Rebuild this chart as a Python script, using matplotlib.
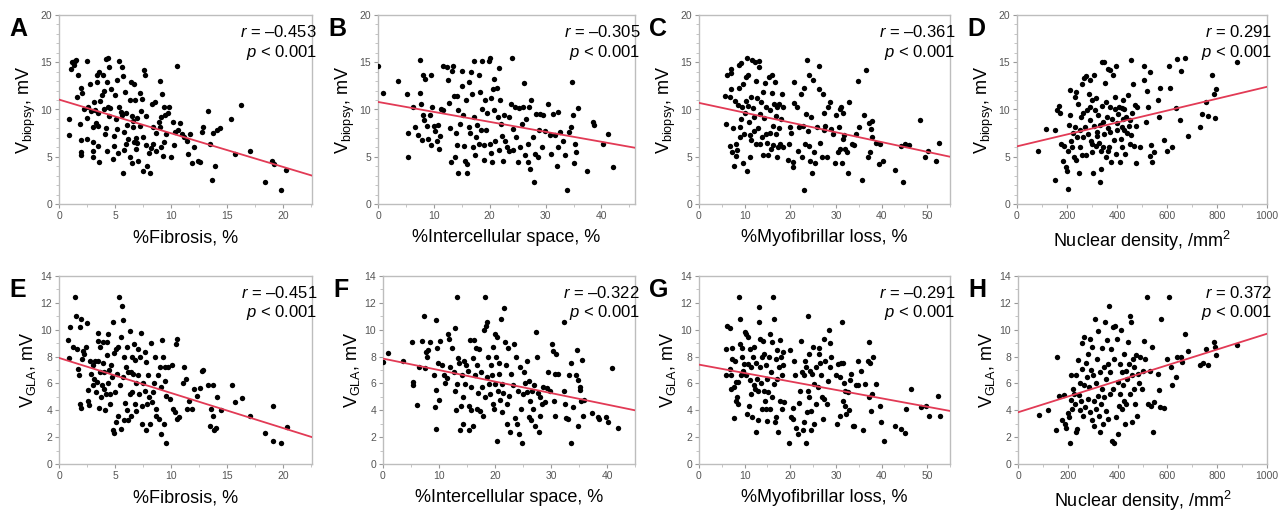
import matplotlib
matplotlib.use("Agg")
import matplotlib.pyplot as plt
import numpy as np

plt.rcParams['font.family'] = ['Liberation Sans', 'DejaVu Sans']
plt.rcParams['mathtext.fontset'] = 'custom'
plt.rcParams['mathtext.rm'] = 'Liberation Sans'
plt.rcParams['mathtext.it'] = 'Liberation Sans:italic'

# ---- data ----
pts_a = [(0.9, 9.0), (0.85, 7.3), (1.05, 14.3), (1.2, 15.0), (1.4, 15.1), (1.55, 15.2), (1.3, 14.7),
         (1.6, 11.3), (1.7, 13.7), (1.95, 12.3), (2.05, 11.7), (1.9, 8.5), (1.95, 6.8), (1.95, 5.5),
         (2.0, 5.2), (2.5, 15.1), (2.5, 9.1), (2.5, 6.9), (2.55, 10.3), (2.8, 12.7), (2.9, 9.8),
         (3.0, 6.6), (3.0, 5.6), (3.05, 5.0), (3.05, 8.1), (3.15, 10.8), (3.35, 12.9), (3.4, 13.7),
         (3.5, 9.6), (3.6, 14.0), (3.5, 6.1), (3.5, 8.3), (3.6, 4.4), (3.7, 10.9), (3.8, 11.5),
         (3.9, 13.6), (4.0, 12.0), (4.2, 15.3), (4.1, 7.4), (4.2, 8.0), (4.3, 12.9), (4.4, 15.5),
         (4.5, 14.5), (4.4, 10.3), (4.5, 9.3), (4.65, 12.2), (4.85, 4.8), (4.9, 7.2), (4.9, 6.1),
         (5.0, 11.5), (5.1, 9.0), (5.2, 13.1), (5.3, 5.4), (5.4, 10.3), (5.4, 15.1), (5.6, 14.5),
         (5.7, 13.5), (5.7, 3.3), (5.8, 7.6), (5.8, 5.7), (5.9, 11.9), (6.0, 9.6), (6.2, 6.9),
         (6.3, 11.0), (6.3, 5.0), (6.4, 12.9), (6.5, 4.3), (6.6, 8.8), (6.6, 8.1), (6.7, 12.7),
         (6.8, 11.0), (6.9, 7.0), (6.9, 5.8), (7.0, 9.1), (7.1, 4.5), (7.2, 8.3), (7.2, 11.7),
         (7.4, 11.1), (7.5, 7.1), (7.5, 3.5), (7.6, 14.2), (7.7, 13.7), (7.8, 9.3), (7.8, 6.2),
         (7.9, 4.0), (8.0, 5.4), (8.1, 3.3), (8.3, 10.6), (8.4, 8.1), (8.4, 6.4), (8.6, 10.8),
         (8.7, 7.5), (8.7, 5.6), (9.0, 8.1), (9.0, 13.0), (9.1, 9.2), (9.1, 6.0), (9.2, 11.6),
         (9.3, 5.1), (9.4, 10.3), (9.5, 9.4), (9.6, 7.4), (9.8, 10.3), (10.0, 5.0), (10.2, 8.7),
         (10.3, 6.2), (10.5, 14.6), (10.6, 7.8), (10.8, 8.6), (11.0, 7.4), (11.2, 7.1), (11.4, 6.7),
         (11.55, 5.3), (11.7, 7.4), (11.85, 4.3), (12.1, 6.0), (12.4, 4.6), (12.6, 4.4), (12.75, 7.6),
         (12.85, 8.2), (13.35, 9.8), (13.5, 6.3), (13.7, 2.5), (13.8, 7.5), (13.9, 4.0), (14.15, 7.8),
         (14.4, 8.0), (15.4, 9.0), (15.75, 5.3), (16.3, 10.5), (17.1, 5.6), (18.4, 2.3), (19.0, 4.5),
         (19.2, 4.2), (19.8, 1.5), (20.3, 3.6),
         (2.2, 10.0), (3.2, 9.9), (4.0, 10.1), (4.6, 10.2), (5.5, 9.7), (6.1, 8.4), (6.5, 9.3),
         (7.3, 9.8), (5.2, 7.9), (6.0, 6.4), (4.3, 5.6), (6.7, 6.6), (8.2, 5.9), (9.4, 6.6),
         (3.3, 8.6), (5.6, 9.4), (7.0, 6.5), (8.9, 8.7), (9.7, 9.6), (10.4, 7.6)]

pts_b = [(0.0, 14.6), (0.9, 11.7), (3.65, 13.0), (5.2, 11.6), (5.4, 7.5), (5.4, 5.0), (6.3, 10.3),
         (6.6, 8.1), (7.2, 7.3), (7.5, 15.2), (7.6, 11.7), (7.7, 10.6), (7.8, 6.8), (8.0, 9.4),
         (8.1, 13.7), (8.2, 8.85), (8.4, 13.2), (8.7, 8.3), (9.0, 6.9), (9.3, 9.4), (9.4, 6.2),
         (9.5, 13.7), (9.6, 10.3), (10.0, 8.3), (10.2, 7.7), (10.6, 6.7), (10.8, 8.4), (10.9, 5.8),
         (11.1, 7.2), (11.3, 10.1), (11.55, 14.6), (11.7, 9.9), (12.3, 14.5), (12.6, 13.1),
         (12.75, 10.7), (12.9, 8.0), (13.0, 4.4), (13.2, 14.1), (13.35, 14.65), (13.6, 11.4),
         (13.8, 5.0), (13.9, 7.5), (14.1, 6.2), (14.1, 11.4), (14.25, 3.3), (14.4, 9.9), (14.7, 8.5),
         (15.0, 14.1), (15.1, 12.5), (15.3, 9.4), (15.4, 6.1), (15.55, 4.5), (15.75, 11.0),
         (15.9, 4.2), (16.0, 3.3), (16.2, 8.1), (16.3, 12.9), (16.5, 7.5), (16.6, 14.0), (16.8, 11.6),
         (16.95, 6.0), (17.1, 15.1), (17.2, 9.2), (17.4, 5.2), (17.5, 7.1), (17.8, 8.4), (18.0, 6.4),
         (18.1, 13.7), (18.3, 11.9), (18.4, 7.8), (18.6, 10.1), (18.7, 15.1), (18.9, 6.2), (19.0, 4.7),
         (19.2, 11.0), (19.3, 7.8), (19.5, 9.6), (19.8, 15.1), (20.0, 6.4), (20.1, 15.5), (20.2, 11.2),
         (20.3, 5.4), (20.4, 4.4), (20.5, 12.2), (20.7, 13.2), (20.8, 9.9), (21.0, 6.7), (21.3, 12.3),
         (21.4, 9.2), (21.6, 14.4), (21.7, 5.7), (21.9, 11.0), (22.1, 8.5), (22.2, 7.2), (22.45, 4.6),
         (22.6, 9.4), (22.8, 6.7), (23.1, 6.0), (23.4, 9.2), (23.5, 5.6), (23.8, 10.6), (23.95, 15.4),
         (24.1, 7.9), (24.25, 5.7), (24.55, 10.3), (24.7, 7.1), (25.0, 4.4), (25.2, 10.2), (25.45, 6.0),
         (25.7, 8.5), (25.9, 10.3), (26.2, 12.8), (26.3, 5.2), (26.5, 9.0), (26.8, 6.4), (26.9, 4.4),
         (27.1, 10.3), (27.2, 3.7), (27.4, 11.0), (27.7, 7.1), (28.0, 2.3), (28.1, 5.3), (28.3, 9.5),
         (28.6, 5.0), (28.8, 7.8), (29.0, 9.5), (29.3, 6.0), (29.5, 9.4), (29.9, 7.7), (30.5, 10.6),
         (30.7, 7.3), (31.0, 5.3), (31.3, 9.5), (31.6, 7.3), (32.0, 4.0), (32.2, 9.7), (32.3, 6.0),
         (32.6, 7.6), (33.1, 6.7), (33.5, 5.2), (33.8, 1.5), (34.1, 7.6), (34.55, 8.2), (34.8, 12.9),
         (34.9, 9.4), (35.1, 4.3), (35.2, 6.4), (35.5, 5.5), (35.75, 10.2), (37.4, 3.5), (38.5, 8.7),
         (38.6, 8.4), (40.3, 6.4), (41.1, 7.4), (42.1, 3.9)]

pts_c = [(5.8, 11.4), (5.95, 8.5), (6.1, 13.7), (6.7, 11.3), (6.85, 6.1), (7.0, 14.3), (7.1, 12.2),
         (7.1, 13.9), (7.3, 5.5), (7.4, 8.0), (7.65, 4.0), (7.8, 10.9), (8.0, 6.4), (8.2, 5.1),
         (8.3, 5.7), (8.5, 10.5), (8.75, 12.3), (8.75, 14.7), (8.9, 7.1), (9.0, 8.2), (9.2, 9.0),
         (9.3, 14.9), (9.5, 10.3), (9.6, 4.3), (9.75, 12.7), (9.9, 7.4), (10.05, 9.6), (10.2, 10.9),
         (10.35, 13.4), (10.5, 15.5), (10.6, 3.5), (10.7, 10.4), (10.8, 13.6), (10.9, 8.7),
         (11.1, 7.3), (11.15, 5.0), (11.3, 11.3), (11.45, 6.8), (11.6, 15.2), (11.8, 10.2),
         (11.95, 9.2), (12.1, 7.7), (12.25, 15.0), (12.4, 6.3), (12.5, 13.0), (12.7, 11.25),
         (12.9, 8.0), (13.05, 15.15), (13.1, 14.5), (13.3, 6.4), (13.4, 9.5), (13.6, 10.8),
         (13.85, 7.1), (14.0, 11.9), (14.1, 5.2), (14.3, 9.1), (14.4, 12.8), (14.6, 7.4), (14.7, 10.3),
         (14.9, 6.5), (15.1, 5.2), (15.3, 13.4), (15.45, 9.9), (15.6, 7.5), (15.7, 5.8), (15.9, 11.75),
         (16.0, 13.7), (16.2, 8.3), (16.3, 6.2), (16.5, 10.6), (16.6, 12.9), (16.8, 7.4), (16.9, 9.3),
         (17.05, 5.0), (17.2, 10.3), (17.35, 6.0), (17.5, 8.0), (17.6, 10.6), (17.8, 6.4), (17.9, 9.0),
         (18.2, 11.6), (18.4, 10.3), (18.5, 6.0), (19.5, 4.7), (19.7, 6.4), (20.0, 8.2), (20.2, 7.5),
         (20.55, 4.4), (20.7, 3.9), (20.8, 12.9), (20.9, 10.7), (21.4, 10.3), (21.6, 5.6), (22.0, 8.1),
         (22.3, 11.6), (22.5, 5.0), (22.7, 8.3), (22.95, 12.3), (23.1, 1.5), (23.25, 6.3), (23.5, 9.5),
         (23.7, 15.2), (23.8, 7.7), (24.05, 6.1), (24.2, 13.6), (24.4, 4.6), (24.6, 9.2), (24.7, 3.3),
         (24.9, 13.1), (25.1, 5.5), (25.5, 4.3), (25.9, 8.1), (26.2, 12.2), (26.4, 14.6), (26.6, 6.5),
         (26.9, 5.0), (27.1, 11.6), (27.3, 9.6), (27.5, 7.8), (27.7, 8.3), (28.1, 5.0), (28.35, 10.3),
         (28.6, 10.8), (28.9, 7.9), (29.3, 7.4), (29.7, 4.3), (30.0, 9.4), (30.4, 5.5), (30.6, 8.1),
         (30.8, 10.1), (31.0, 5.8), (31.2, 10.3), (31.3, 4.3), (31.5, 9.6), (31.6, 6.9), (31.85, 7.3),
         (32.1, 5.8), (32.4, 5.5), (32.6, 3.3), (32.95, 10.8), (33.5, 6.4), (34.0, 6.2), (34.4, 7.4),
         (34.8, 13.0), (35.1, 8.2), (35.7, 2.5), (36.2, 9.4), (36.7, 14.2), (37.0, 5.0), (37.2, 8.6),
         (37.5, 5.5), (37.6, 7.9), (37.8, 8.8), (37.9, 7.1), (38.8, 6.5), (39.4, 4.2), (39.65, 6.4),
         (40.4, 4.5), (43.0, 3.6), (44.2, 6.1), (44.75, 2.3), (45.1, 6.4), (46.1, 6.2), (48.5, 8.9),
         (49.6, 5.0), (50.2, 5.6), (52.0, 4.5), (52.5, 6.5)]

pts_d = [(85, 5.6), (117, 7.9), (150, 2.5), (153, 7.8), (160, 9.9), (168, 10.4), (173, 9.6), (177, 6.4),
         (184, 4.6), (187, 6.1), (195, 3.9), (200, 3.5), (204, 1.6), (205, 5.6), (208, 8.4), (211, 12.1),
         (213, 9.4), (217, 6.7), (221, 6.0), (224, 7.5), (228, 5.0), (231, 11.3), (235, 11.9),
         (237, 4.7), (240, 7.1), (244, 10.6), (247, 3.3), (251, 7.8), (253, 6.0), (256, 9.2), (259, 5.2),
         (261, 12.7), (264, 7.1), (267, 13.3), (271, 8.1), (275, 13.5), (277, 5.2), (280, 9.9),
         (284, 7.4), (288, 11.6), (291, 8.85), (293, 13.1), (296, 6.7), (299, 11.0), (301, 5.5),
         (304, 3.3), (307, 8.3), (309, 13.6), (312, 9.9), (315, 6.1), (317, 11.2), (320, 7.6),
         (324, 9.4), (327, 6.5), (331, 2.3), (333, 8.4), (336, 3.7), (339, 15.0), (341, 10.4),
         (344, 6.0), (347, 15.0), (349, 7.4), (352, 12.8), (355, 5.0), (357, 10.8), (360, 9.2),
         (363, 14.3), (365, 8.0), (368, 6.0), (371, 10.3), (373, 14.2), (377, 4.4), (380, 9.0),
         (384, 13.7), (387, 6.8), (391, 11.3), (395, 5.3), (397, 14.6), (400, 7.8), (404, 9.5),
         (408, 10.3), (411, 4.4), (415, 6.9), (419, 10.2), (421, 6.0), (424, 11.0), (427, 7.8),
         (429, 10.1), (432, 5.3), (437, 9.2), (441, 7.5), (444, 11.5), (448, 8.3), (451, 6.4),
         (455, 15.2), (457, 7.3), (461, 9.6), (464, 12.7), (468, 6.1), (471, 10.5), (475, 8.3),
         (477, 4.3), (480, 10.3), (491, 6.0), (507, 14.6), (509, 13.1), (515, 8.7), (520, 12.0),
         (525, 10.3), (531, 5.1), (533, 14.0), (537, 6.2), (541, 4.4), (547, 5.5), (564, 11.0),
         (568, 9.2), (571, 12.3), (587, 6.8), (600, 5.6), (608, 14.6), (613, 12.3), (619, 6.0),
         (635, 10.2), (640, 15.3), (651, 8.85), (657, 14.1), (672, 15.5), (684, 7.2), (731, 8.1),
         (741, 9.5), (755, 10.8), (764, 9.3), (781, 13.6), (787, 11.6), (791, 9.1), (795, 12.2),
         (880, 15.0),
         (230, 8.2), (262, 9.6), (290, 10.3), (318, 7.2), (345, 8.7), (372, 7.6), (398, 8.6),
         (425, 9.0), (452, 8.9), (300, 6.4), (335, 5.6), (362, 5.6), (392, 10.1), (420, 8.1)]

pts_e = [(0.8, 9.25), (0.9, 7.9), (1.0, 10.2), (1.25, 8.75), (1.45, 12.45), (1.55, 11.0), (1.6, 8.6),
         (1.7, 7.1), (1.75, 6.6), (1.85, 10.2), (1.9, 4.5), (1.95, 4.15), (1.95, 10.8), (2.05, 7.85),
         (2.15, 8.45), (2.2, 8.2), (2.45, 8.7), (2.5, 10.5), (2.55, 5.5), (2.6, 4.7), (2.7, 4.4),
         (2.8, 7.65), (2.9, 6.7), (3.0, 5.85), (3.05, 7.4), (3.1, 6.35), (3.2, 7.7), (3.3, 5.35),
         (3.35, 6.1), (3.45, 7.7), (3.5, 9.15), (3.5, 9.75), (3.6, 4.2), (3.65, 6.85), (3.7, 8.7),
         (3.75, 5.0), (3.8, 5.85), (3.9, 7.5), (3.95, 9.1), (4.0, 5.6), (4.05, 6.85), (4.1, 4.0),
         (4.2, 5.2), (4.25, 8.1), (4.3, 9.1), (4.35, 6.0), (4.4, 9.65), (4.5, 7.0), (4.55, 5.2),
         (4.6, 4.5), (4.65, 7.4), (4.7, 6.5), (4.8, 2.5), (4.85, 10.55), (4.9, 2.3), (4.95, 8.25),
         (5.0, 5.35), (5.05, 3.1), (5.1, 8.6), (5.2, 6.7), (5.25, 3.55), (5.3, 8.7), (5.4, 12.45),
         (5.45, 5.85), (5.5, 2.6), (5.55, 9.45), (5.6, 11.75), (5.7, 6.45), (5.75, 10.75), (5.8, 3.25),
         (5.85, 7.95), (5.9, 4.55), (6.0, 7.2), (6.05, 4.0), (6.1, 8.7), (6.15, 6.85), (6.2, 3.25),
         (6.3, 5.2), (6.35, 9.9), (6.4, 6.85), (6.45, 3.55), (6.5, 7.95), (6.55, 5.35), (6.6, 6.7),
         (6.7, 8.9), (6.75, 4.5), (6.8, 7.75), (6.85, 6.0), (6.9, 3.95), (7.05, 8.6), (7.1, 6.6),
         (7.15, 5.2), (7.25, 8.0), (7.35, 9.75), (7.4, 3.0), (7.45, 4.35), (7.5, 6.0), (7.65, 8.35),
         (7.7, 5.45), (7.75, 7.6), (7.8, 2.55), (7.9, 4.5), (7.95, 6.65), (8.05, 5.0), (8.1, 3.0),
         (8.2, 9.0), (8.3, 4.6), (8.4, 5.35), (8.5, 6.0), (8.6, 8.0), (8.65, 4.1), (8.7, 3.6),
         (8.85, 6.6), (8.95, 3.35), (9.0, 7.2), (9.1, 5.7), (9.15, 2.25), (9.2, 9.25), (9.3, 7.95),
         (9.4, 3.0), (9.45, 6.2), (9.5, 7.2), (9.55, 1.6), (9.6, 5.1), (9.75, 7.2), (9.9, 4.85),
         (10.05, 7.4), (10.2, 4.1), (10.35, 3.85), (10.45, 8.95), (10.5, 9.3), (10.55, 3.35),
         (10.75, 3.5), (11.05, 6.0), (11.15, 7.2), (11.3, 6.35), (11.45, 4.1), (11.65, 4.7),
         (11.85, 4.1), (12.05, 5.6), (12.3, 5.1), (12.6, 5.65), (12.75, 6.95), (12.9, 7.0),
         (13.35, 5.85), (13.5, 2.85), (13.6, 4.1), (13.75, 5.9), (13.8, 3.6), (13.85, 2.55),
         (14.05, 2.7), (14.15, 5.0), (14.45, 4.0), (15.45, 5.9), (15.75, 4.6), (16.35, 4.9),
         (17.1, 3.6), (18.4, 2.3), (19.1, 1.75), (19.15, 4.35), (19.85, 1.55), (20.35, 2.75)]

pts_f = [(0.0, 7.6), (0.9, 8.3), (3.6, 7.65), (5.1, 9.1), (5.4, 6.1), (5.4, 5.85), (6.1, 4.4),
         (6.4, 7.25), (7.0, 9.15), (7.4, 11.0), (7.5, 7.15), (7.65, 8.35), (7.9, 7.95), (8.05, 8.5),
         (8.35, 9.1), (9.15, 6.65), (9.3, 4.25), (9.45, 10.75), (9.55, 5.5), (9.5, 2.6), (9.65, 8.65),
         (9.85, 7.5), (10.0, 4.75), (10.15, 9.15), (10.6, 7.4), (10.85, 6.6), (11.05, 6.0),
         (11.35, 6.4), (11.65, 9.7), (11.8, 9.3), (12.05, 7.2), (12.4, 8.65), (12.65, 6.85),
         (12.8, 5.45), (12.85, 10.15), (13.0, 4.0), (13.15, 12.45), (13.25, 5.95), (13.35, 7.9),
         (13.6, 7.5), (13.75, 2.5), (13.85, 4.35), (14.05, 6.6), (14.2, 3.0), (14.35, 5.0),
         (14.5, 7.7), (14.7, 5.95), (14.9, 7.4), (15.1, 6.95), (15.3, 2.55), (15.4, 4.35),
         (15.5, 9.2), (15.65, 4.0), (15.8, 5.7), (16.0, 7.9), (16.1, 2.85), (16.3, 9.2), (16.4, 6.6),
         (16.6, 8.65), (16.7, 4.1), (16.85, 7.4), (17.0, 5.3), (17.2, 8.6), (17.3, 3.95),
         (17.5, 6.85), (17.65, 5.7), (17.9, 3.6), (18.05, 9.95), (18.15, 12.45), (18.25, 5.0),
         (18.4, 10.25), (18.5, 6.45), (18.6, 10.55), (18.8, 7.95), (19.0, 5.95), (19.1, 5.2),
         (19.2, 7.4), (19.4, 6.6), (19.6, 4.5), (19.7, 8.75), (19.8, 4.1), (19.95, 9.65),
         (20.05, 5.95), (20.2, 8.0), (20.3, 1.75), (20.4, 9.45), (20.55, 5.45), (20.65, 7.5),
         (20.8, 6.7), (20.9, 4.75), (21.1, 10.8), (21.2, 3.85), (21.3, 5.95), (21.5, 5.3),
         (21.6, 11.65), (21.8, 9.1), (21.9, 7.35), (22.1, 4.5), (22.2, 3.0), (22.4, 8.65),
         (22.55, 5.1), (22.7, 2.35), (22.8, 6.7), (23.15, 5.85), (23.4, 8.9), (23.6, 3.45),
         (23.8, 7.95), (24.0, 3.0), (24.1, 5.45), (24.3, 2.25), (24.5, 7.2), (24.65, 4.1),
         (24.8, 1.6), (24.95, 5.2), (25.1, 6.85), (25.4, 6.0), (25.7, 7.65), (25.8, 5.35),
         (26.0, 3.5), (26.1, 6.15), (26.3, 4.7), (26.4, 3.25), (26.6, 5.45), (26.75, 4.1),
         (26.9, 5.9), (27.1, 2.85), (27.35, 9.8), (27.45, 8.0), (27.6, 5.3), (27.8, 2.35),
         (27.95, 3.6), (28.05, 5.0), (28.35, 4.5), (28.65, 5.7), (28.95, 4.6), (29.25, 5.65),
         (29.55, 6.85), (29.75, 5.45), (30.15, 8.95), (30.3, 8.45), (30.45, 4.7), (30.65, 6.7),
         (30.8, 3.6), (30.95, 8.2), (31.2, 6.7), (32.25, 10.55), (32.4, 5.45), (32.55, 4.5),
         (32.7, 3.45), (32.95, 3.35), (33.15, 6.6), (33.55, 7.5), (33.6, 1.6), (33.9, 4.25),
         (34.5, 6.6), (34.6, 8.5), (34.75, 6.25), (34.9, 2.85), (35.1, 5.7), (35.2, 5.5),
         (35.35, 4.7), (35.5, 7.75), (35.7, 3.6), (35.95, 4.75), (37.3, 3.8), (38.4, 3.5),
         (38.5, 3.35), (39.9, 3.5), (40.1, 3.1), (40.95, 7.15), (42.0, 2.65)]

pts_g = [(5.85, 6.6), (6.0, 8.6), (6.2, 10.25), (6.85, 10.15), (6.85, 7.1), (7.0, 6.6), (7.05, 5.6),
         (7.15, 7.85), (7.3, 8.65), (7.6, 3.45), (7.75, 5.7), (7.9, 7.65), (8.0, 6.1), (8.15, 4.7),
         (8.3, 5.0), (8.45, 4.5), (8.6, 6.1), (8.75, 12.45), (8.9, 10.8), (9.05, 8.9), (9.2, 6.6),
         (9.35, 8.65), (9.5, 7.95), (9.6, 6.95), (9.75, 6.85), (9.9, 7.45), (10.05, 9.8), (10.2, 6.6),
         (10.35, 9.65), (10.5, 3.75), (10.65, 7.45), (10.8, 9.45), (10.95, 4.35), (11.1, 8.6),
         (11.25, 6.25), (11.4, 5.2), (11.5, 7.2), (11.65, 3.5), (11.8, 7.95), (11.95, 5.85),
         (12.1, 8.7), (12.25, 5.6), (12.4, 2.35), (12.55, 7.5), (12.7, 6.35), (12.85, 3.25),
         (13.0, 5.45), (13.1, 11.7), (13.1, 10.55), (13.3, 7.2), (13.4, 9.3), (13.55, 6.0),
         (13.7, 8.0), (13.85, 4.1), (14.0, 9.15), (14.15, 5.45), (14.3, 8.2), (14.45, 4.7),
         (14.6, 7.4), (14.7, 4.1), (14.85, 6.35), (15.0, 3.2), (15.15, 5.35), (15.3, 7.95),
         (15.45, 4.1), (15.6, 9.7), (15.75, 6.85), (15.9, 5.0), (16.05, 9.1), (16.2, 12.4),
         (16.35, 5.95), (16.5, 10.8), (16.65, 3.1), (16.8, 7.85), (16.9, 3.5), (17.05, 8.5),
         (17.2, 6.35), (17.35, 2.35), (17.5, 7.2), (17.65, 4.7), (17.8, 9.2), (17.95, 7.95),
         (18.1, 6.65), (18.25, 4.1), (18.4, 8.35), (18.5, 7.4), (18.7, 4.6), (19.7, 1.6),
         (19.85, 8.5), (20.2, 3.5), (20.55, 3.35), (20.7, 4.2), (20.85, 7.7), (21.0, 6.6),
         (21.15, 2.7), (21.65, 2.25), (21.9, 4.55), (22.2, 5.45), (22.4, 9.15), (22.6, 6.85),
         (22.75, 2.5), (22.9, 6.6), (23.05, 3.1), (23.2, 7.7), (23.35, 1.6), (23.5, 7.2),
         (23.65, 3.85), (23.8, 5.45), (23.95, 11.0), (24.1, 5.0), (24.2, 8.2), (24.4, 6.95),
         (24.5, 3.95), (24.65, 2.55), (24.8, 6.7), (24.95, 8.7), (25.1, 3.0), (25.25, 5.95),
         (25.55, 7.2), (25.7, 4.5), (26.05, 5.7), (26.3, 8.65), (26.4, 8.2), (26.55, 7.5),
         (26.7, 6.6), (27.0, 5.0), (27.15, 3.35), (27.3, 9.3), (27.5, 4.85), (27.7, 7.65),
         (28.0, 4.5), (28.2, 6.15), (28.45, 9.95), (28.6, 9.0), (28.75, 7.2), (28.9, 8.0),
         (30.05, 6.6), (30.2, 2.95), (30.35, 7.45), (30.8, 3.6), (30.95, 6.5), (31.15, 7.5),
         (31.3, 10.55), (31.5, 7.5), (31.65, 4.7), (31.8, 6.0), (31.95, 4.35), (32.1, 5.45),
         (32.25, 3.75), (32.6, 5.35), (32.8, 4.0), (33.1, 6.25), (33.4, 6.7), (33.7, 2.85),
         (34.05, 2.85), (34.4, 5.85), (34.8, 5.9), (34.85, 7.7), (35.5, 6.95), (36.0, 2.5),
         (36.45, 5.95), (37.05, 7.65), (37.2, 5.0), (37.3, 9.1), (37.55, 7.5), (37.75, 3.95),
         (37.9, 5.2), (38.05, 7.95), (38.8, 5.95), (39.65, 4.35), (39.9, 3.1), (40.6, 1.75),
         (43.0, 2.8), (44.25, 2.6), (45.1, 2.3), (45.4, 4.1), (46.5, 5.6), (48.7, 4.25), (49.8, 4.3),
         (50.5, 3.6), (52.3, 5.1), (52.7, 3.6)]

pts_h = [(85, 3.65), (120, 4.05), (151, 2.5), (155, 8.0), (164, 5.1), (177, 3.25), (184, 5.15),
         (187, 3.0), (191, 2.7), (200, 3.8), (204, 3.5), (208, 1.6), (211, 6.6), (213, 4.8),
         (217, 4.1), (221, 5.6), (224, 5.2), (227, 4.5), (231, 2.35), (233, 6.6), (237, 2.6),
         (240, 7.75), (244, 5.15), (247, 4.0), (251, 6.0), (253, 4.7), (256, 9.0), (259, 7.1),
         (261, 3.55), (264, 9.45), (267, 5.85), (271, 4.25), (275, 7.5), (277, 6.45), (280, 4.85),
         (283, 8.2), (285, 5.7), (288, 9.3), (291, 3.85), (293, 7.0), (296, 8.75), (299, 3.25),
         (301, 6.6), (304, 4.7), (307, 2.85), (309, 10.8), (312, 6.0), (315, 4.1), (317, 7.85),
         (320, 9.9), (323, 5.1), (325, 3.55), (328, 6.85), (331, 2.35), (333, 4.5), (336, 8.65),
         (339, 5.6), (341, 3.0), (344, 7.2), (347, 5.0), (349, 10.55), (352, 6.35), (355, 3.95),
         (357, 9.25), (360, 7.45), (363, 3.35), (365, 11.75), (368, 6.85), (371, 5.2), (373, 8.6),
         (377, 1.75), (380, 10.2), (383, 5.6), (384, 1.6), (387, 7.85), (391, 10.25), (393, 3.5),
         (397, 9.3), (400, 2.25), (403, 6.1), (405, 4.35), (408, 7.45), (411, 5.2), (413, 10.0),
         (416, 6.85), (419, 4.1), (421, 5.85), (424, 8.2), (427, 4.7), (429, 3.0), (432, 6.95),
         (435, 4.5), (437, 6.35), (441, 9.1), (444, 7.45), (448, 5.25), (451, 11.0), (453, 10.55),
         (456, 6.6), (459, 3.1), (461, 7.85), (464, 5.6), (467, 7.25), (471, 4.5), (475, 8.1),
         (477, 3.6), (481, 6.7), (485, 6.0), (491, 7.95), (497, 5.6), (504, 6.95), (508, 9.15),
         (512, 7.85), (517, 12.4), (524, 4.5), (531, 6.95), (533, 4.3), (537, 8.7), (541, 2.35),
         (547, 4.6), (564, 6.7), (568, 5.5), (571, 4.25), (573, 10.8), (587, 4.2), (600, 7.85),
         (608, 12.45), (613, 7.25), (619, 5.9), (635, 6.5), (640, 7.95), (653, 7.95), (657, 7.6),
         (672, 9.65), (684, 8.45), (731, 7.35), (741, 7.5), (755, 8.6), (764, 7.35), (787, 9.1),
         (791, 8.7), (795, 8.15), (880, 8.85)]

panel_points = [pts_a, pts_b, pts_c, pts_d, pts_e, pts_f, pts_g, pts_h]
panel_letters = ['A', 'B', 'C', 'D', 'E', 'F', 'G', 'H']
r_values = ['\u20130.453', '\u20130.305', '\u20130.361', '0.291',
            '\u20130.451', '\u20130.322', '\u20130.291', '0.372']
x_labels = ['%Fibrosis, %', '%Intercellular space, %', '%Myofibrillar loss, %',
            'Nuclear density, /mm$^2$'] * 2
y_labels = ['V$_{\\mathrm{biopsy}}$, mV'] * 4 + ['V$_{\\mathrm{GLA}}$, mV'] * 4
x_max = [22.6, 46, 55, 1000, 22.6, 45, 55, 1000]
y_max = [20] * 4 + [14] * 4
fit_intercept = [11.05, 10.8, 10.7, 6.1, 7.9, 7.85, 7.4, 3.85]
fit_slope = [-0.356, -0.1054, -0.1036, 0.0063, -0.261, -0.0856, -0.0627, 0.00585]

# axes boxes in pixels (left, right, top, bottom)
W, H = 1285, 515
boxes = [(59, 312, 15, 204), (378, 635, 15, 204), (699, 950, 15, 204), (1017, 1267, 15, 204),
         (59, 312, 276, 464), (383, 635, 276, 464), (699, 950, 276, 464), (1018, 1267, 276, 464)]
x_major = [5, 10, 10, 200] * 2
y_major = [5] * 4 + [2] * 4

fig = plt.figure(figsize=(W / 100, H / 100), dpi=100)
spine_col = '#bdbdbd'
red = '#e23a55'

for i in range(8):
    l, r, t, b = boxes[i]
    ax = fig.add_axes([l / W, 1 - b / H, (r - l) / W, (b - t) / H])
    xs, ys = zip(*panel_points[i])
    ax.scatter(xs, ys, s=15, color='black', linewidths=0, zorder=3)
    xx = np.array([0, x_max[i]])
    ax.plot(xx, fit_intercept[i] + fit_slope[i] * xx, color=red, lw=1.3, zorder=4)
    ax.set_xlim(0, x_max[i])
    ax.set_ylim(0, y_max[i])
    ax.xaxis.set_major_locator(matplotlib.ticker.MultipleLocator(x_major[i]))
    ax.xaxis.set_minor_locator(matplotlib.ticker.MultipleLocator(x_major[i] / 2))
    ax.yaxis.set_major_locator(matplotlib.ticker.MultipleLocator(y_major[i]))
    ax.yaxis.set_minor_locator(matplotlib.ticker.MultipleLocator(1))
    for s in ax.spines.values():
        s.set_color(spine_col)
        s.set_linewidth(1.0)
    ax.tick_params(which='major', length=3, width=0.8, color='#999999',
                   labelsize=7.5, labelcolor='#555555', pad=2)
    ax.tick_params(which='minor', length=2, width=0.6, color='#bbbbbb')
    ax.set_xlabel(x_labels[i], fontsize=13, labelpad=6)
    ax.set_ylabel(y_labels[i], fontsize=13, labelpad=2)
    ax.text(1.02, 0.95, '$r$ = ' + r_values[i] + '\n$p$ < 0.001', transform=ax.transAxes,
            ha='right', va='top', fontsize=12, linespacing=1.15)
    fig.text((l - 50) / W, 1 - (t + 14) / H, panel_letters[i], fontsize=18,
             fontweight='bold', va='center', ha='left')

fig.savefig('out.png', dpi=100)
